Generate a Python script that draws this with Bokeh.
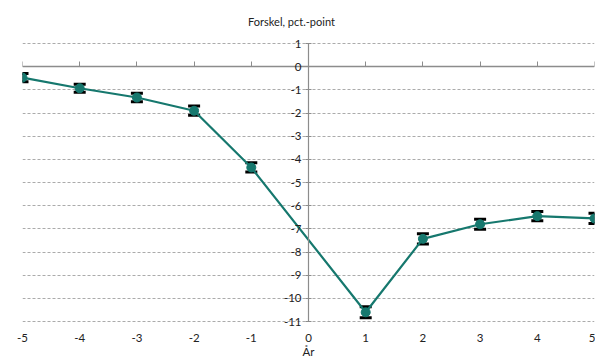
from bokeh.plotting import figure
from bokeh.models import (ColumnDataSource, LinearAxis, FixedTicker, Range1d,
                          Whisker, TeeHead, Label)
from bokeh.embed import file_html
from bokeh.resources import INLINE

# Years relative to the event and the difference in percentage points
years = [-5, -4, -3, -2, -1, 1, 2, 3, 4, 5]
diff = [-0.47, -0.93, -1.33, -1.9, -4.35, -10.6, -7.43, -6.8, -6.45, -6.55]
err = [0.18, 0.17, 0.18, 0.2, 0.2, 0.24, 0.22, 0.22, 0.2, 0.22]

x_ticks = [-5, -4, -3, -2, -1, 0, 1, 2, 3, 4, 5]
y_ticks = [1, 0, -1, -2, -3, -4, -5, -6, -7, -8, -9, -10, -11]

FONT = "Lato"
GRID = "#ababab"
AXIS = "#8c8c8c"
TEAL = "#16786e"
TEXT = "#222222"

src = ColumnDataSource(dict(
    x=years, y=diff,
    lo=[d - e for d, e in zip(diff, err)],
    hi=[d + e for d, e in zip(diff, err)],
))

# Some headroom above 1 and below -11 so the title and the outer labels fit
p = figure(width=595, height=360, output_backend="svg", toolbar_location=None,
           x_range=Range1d(-5, 5), y_range=Range1d(-11.3, 2.34),
           x_axis_location=None, y_axis_location=None,
           min_border_left=22, min_border_right=1,
           min_border_top=12, min_border_bottom=0)
p.outline_line_color = None
p.background_fill_color = "white"
p.border_fill_color = "white"

# Horizontal dashed gridlines only
p.xgrid.visible = False
p.ygrid.ticker = FixedTicker(ticks=y_ticks)
p.ygrid.grid_line_color = GRID
p.ygrid.grid_line_dash = "3 2"
p.ygrid.grid_line_width = 1

# Plain hyphen-minus tick labels
x_labels = {t: str(t) for t in x_ticks}
y_labels = {t: str(t) for t in y_ticks}

# Bottom axis: labels only, plus the axis title
xlab = LinearAxis(ticker=FixedTicker(ticks=x_ticks), axis_label="År")
xlab.major_label_overrides = x_labels
xlab.axis_line_color = None
xlab.major_tick_line_color = None
xlab.major_tick_in = 0
xlab.major_tick_out = 0
xlab.minor_tick_line_color = None
xlab.major_label_text_font = FONT
xlab.major_label_text_font_size = "11.5px"
xlab.major_label_text_color = TEXT
xlab.major_label_standoff = 5
xlab.axis_label_text_font = FONT
xlab.axis_label_text_font_size = "11.5px"
xlab.axis_label_text_font_style = "normal"
xlab.axis_label_text_color = TEXT
xlab.axis_label_standoff = 0
p.add_layout(xlab, "below")

# Horizontal axis line crossing at zero, ticks pointing up, no labels
xline = LinearAxis(ticker=FixedTicker(ticks=x_ticks), fixed_location=0,
                   bounds=(-5, 5))
xline.axis_line_color = AXIS
xline.axis_line_width = 1.5
xline.major_tick_line_color = AXIS
xline.major_tick_in = 5
xline.major_tick_out = 0
xline.minor_tick_line_color = None
xline.major_label_text_alpha = 0
xline.major_label_text_font_size = "0px"
xline.major_label_standoff = 0
p.add_layout(xline, "below")

# Vertical axis crossing at zero, spanning -11 to 1
yax = LinearAxis(ticker=FixedTicker(ticks=y_ticks), fixed_location=0,
                 bounds=(-11, 1))
yax.major_label_overrides = y_labels
yax.axis_line_color = AXIS
yax.axis_line_width = 1.2
yax.major_tick_line_color = AXIS
yax.major_tick_in = 3
yax.major_tick_out = 3
yax.minor_tick_line_color = None
yax.major_label_text_font = FONT
yax.major_label_text_font_size = "11.5px"
yax.major_label_text_color = TEXT
yax.major_label_standoff = 4
p.add_layout(yax, "left")

# Series line and markers
p.line("x", "y", source=src, line_color=TEAL, line_width=2.2)
p.scatter("x", "y", source=src, size=9, fill_color=TEAL, line_color=TEAL)

# Error bars
p.add_layout(Whisker(source=src, base="x", lower="lo", upper="hi",
                     line_color="black", line_width=1.5,
                     upper_head=TeeHead(size=12, line_width=3, line_color="black"),
                     lower_head=TeeHead(size=12, line_width=3, line_color="black")))

# Axis title above the vertical axis
p.add_layout(Label(x=0, y=1, x_offset=-17, y_offset=22,
                   text="Forskel, pct.-point", text_font=FONT,
                   text_font_size="11px", text_color=TEXT,
                   text_align="center", text_baseline="middle"))

open("out.html", "w").write(file_html(p, INLINE))
